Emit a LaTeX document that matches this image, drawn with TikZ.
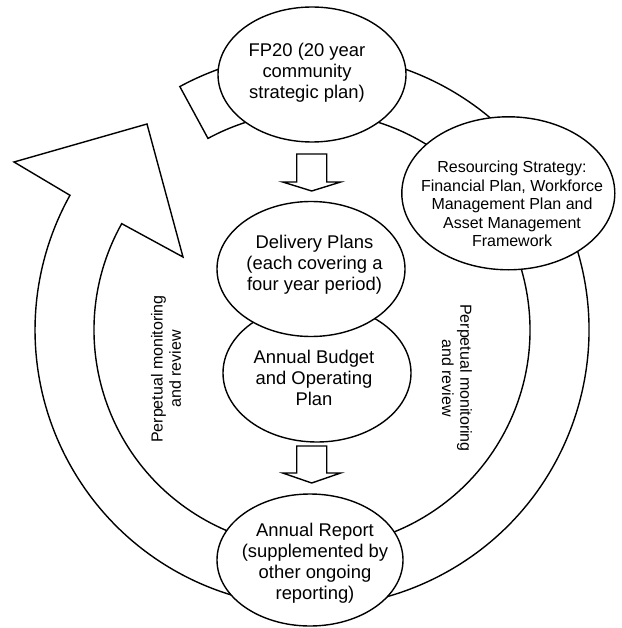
\documentclass[tikz,border=0pt]{standalone}
\usepackage{fontspec}
\setmainfont{Liberation Sans}
\usetikzlibrary{shapes.geometric,calc}
\begin{document}
\begin{tikzpicture}[x=1pt,y=-1pt,
  line width=1.4pt, line join=miter,
  ell/.style={draw, fill=white, ellipse, inner sep=0pt, outer sep=0pt},
  maintxt/.style={align=center, font=\fontsize{18.4}{21}\selectfont, inner sep=0pt},
  smalltxt/.style={align=center, font=\fontsize{16}{18.4}\selectfont, inner sep=0pt},
  blockarrow/.style={draw, fill=white, line join=miter}]
\useasboundingbox (0,0) rectangle (621,628);
\coordinate (C) at (312,330);
% circular arrow ring
\draw[fill=white] ($(C)+(118.5:277pt)$) arc[start angle=118.5, end angle=-209.1, radius=277pt]
  -- (14,162) -- (147,124) -- (183,257)
  -- ($(C)+(150.8:218pt)$) arc[start angle=150.8, end angle=478.5, radius=218pt] -- cycle;
% ellipses on the ring
\node[ell, minimum width=188pt, minimum height=135pt] (fp) at (312,74.5) {};
\node[ell, minimum width=213pt, minimum height=153pt] (rs) at (508.3,193.3) {};
\node[ell, minimum width=186pt, minimum height=132pt] (ar) at (310,560) {};
% block arrows
\draw[blockarrow] (296.7,154) -- (326.7,154) -- (326.7,182) -- (340.7,182) -- (311.7,191) -- (282.7,182) -- (296.7,182) -- cycle;
\draw[blockarrow] (296.7,446) -- (326.7,446) -- (326.7,473) -- (340.7,473) -- (311.7,483) -- (282.7,473) -- (296.7,473) -- cycle;
% central ellipses
\node[ell, minimum width=188pt, minimum height=138pt] (ab) at (317,373) {};
\node[ell, minimum width=188pt, minimum height=135pt] (dp) at (311,269) {};
% texts
\node[maintxt] (fpt) at (307,73) {FP20 (20 year\\community\\strategic plan)};
\node[smalltxt] (rst) at (512,204) {Resourcing Strategy:\\Financial Plan, Workforce\\Management Plan and\\Asset Management\\Framework};
\node[maintxt] (dpt) at (314.5,264.5) {Delivery Plans\\(each covering a\\four year period)};
\node[maintxt] (abt) at (314,378) {Annual Budget\\and Operating\\Plan};
\node[maintxt] (art) at (315,563) {Annual Report\\(supplemented by\\other ongoing\\reporting)};
\node[smalltxt, rotate=90] (pl) at (166,369) {Perpetual monitoring\\and review};
\node[smalltxt, rotate=-90] (pr) at (457,378) {Perpetual monitoring\\and review};
\end{tikzpicture}
\end{document}
